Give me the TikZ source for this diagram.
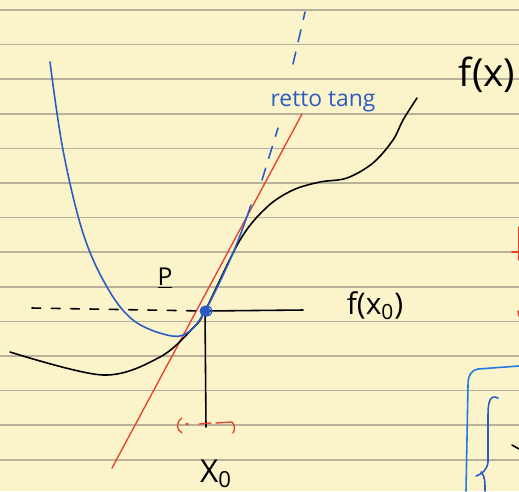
\documentclass[tikz,border=0pt]{standalone}
\usepackage{fontspec}
\setmainfont{Open Sans}
\usetikzlibrary{positioning}
\definecolor{paper}{HTML}{FBF3C9}
\definecolor{rulegray}{HTML}{B9B29B}
\definecolor{inkblue}{HTML}{2B5CC6}
\definecolor{inkred}{HTML}{E8402C}
\definecolor{penblue}{HTML}{1F7AE2}

\begin{document}
\begin{tikzpicture}[x=0.02cm, y=-0.02cm,
    ruling/.style={draw=rulegray, line width=0.9pt},
    pen/.style={line width=0.9pt, line cap=round, line join=round},
    hand/.style={inner sep=0pt, font=#1},
    hand/.default=\large
]
    % Paper
    \fill[paper] (0,0) rectangle (519,491);
    \useasboundingbox (0,0) rectangle (519,491);
    \foreach \ry in {10,44.6,...,470}
        \draw[ruling] (0,\ry) -- (519,\ry);

    % Points
    \coordinate (P) at (205,311);
    \coordinate (tanA) at (112,468);
    \coordinate (tanB) at (302,114);
    \coordinate (hL) at (32,308);
    \coordinate (hR) at (303,310);
    \coordinate (vB) at (206,427);

    % Tangent line
    \draw[pen, inkred, line width=0.75pt] (tanA) -- (tanB);

    % f(x)
    \draw[pen] plot[smooth, tension=0.55] coordinates {(10,352) (103,375) (160,357) (193,328) (P) (240,240) (267,207) (293,190) (320,182) (347,178) (373,163) (393,140) (403,120) (417,98)};

    % Osculating curve
    \draw[pen, inkblue] plot[smooth, tension=0.6] coordinates {(50,62) (63,150) (83,233) (107,287) (133,320) (167,335) (187,333) (P) (233,253) (251,205)};
    \draw[pen, inkblue, dash pattern=on 7pt off 6pt] (262,180) -- (278,128);
    \draw[pen, inkblue, dash pattern=on 7pt off 6pt] (293,64) -- (305,12);

    % Level and abscissa
    \draw[pen, dash pattern=on 5pt off 6pt] (hL) -- (P);
    \draw[pen] (P) -- (hR);
    \draw[pen] (P) -- (vB);

    % Neighbourhood of x0
    \draw[pen, inkred, line width=0.75pt] (182,418) .. controls (176,422) and (176,430) .. (182,433);
    \draw[pen, inkred, line width=0.75pt] (186,424) -- (188,424);
    \draw[pen, inkred, line width=0.75pt] (199,424) -- (211,423);
    \draw[pen, inkred, line width=0.75pt] (216,423) -- (232,422) .. controls (235,425) and (235,430) .. (233,433);

    \fill[inkblue] (P) circle (5.5);
    \draw[inkblue, line width=0.7pt] (207,311) circle (5);

    % Labels
    \node[hand=\fontsize{13}{15}\selectfont, text=inkblue] (tang) at (323,102) {retto tang};
    \node[hand=\fontsize{22}{24}\selectfont] (fx) at (487,75) {f(x)};
    \node[hand=\fontsize{17}{19}\selectfont] (fx0) at (375,306) {f(x\textsubscript{0})};
    \node[hand=\fontsize{14}{16}\selectfont] (Plab) at (165,278) {\underline{P}};
    \node[hand=\fontsize{18}{20}\selectfont] (xzero) at (216,474) {X\textsubscript{0}};

    % Margin of the next page
    \draw[pen, inkred] (519,227) -- (519,260);
    \draw[pen, inkred] (512,252) -- (519,252);
    \draw[pen, inkred] (518,311) -- (519,316);
    \draw[pen, penblue] (519,366) -- (478,369) .. controls (470,371) and (468,376) .. (468,385) -- (466,491);
    \draw[pen, inkblue] (498,398) .. controls (490,394) and (488,402) .. (488,415) -- (488,462) .. controls (487,470) and (482,474) .. (476,476);
    \draw[pen, inkblue] (481,472) .. controls (485,476) and (485,482) .. (485,491);
    \draw[pen] (512,445) -- (519,449);
\end{tikzpicture}
\end{document}
